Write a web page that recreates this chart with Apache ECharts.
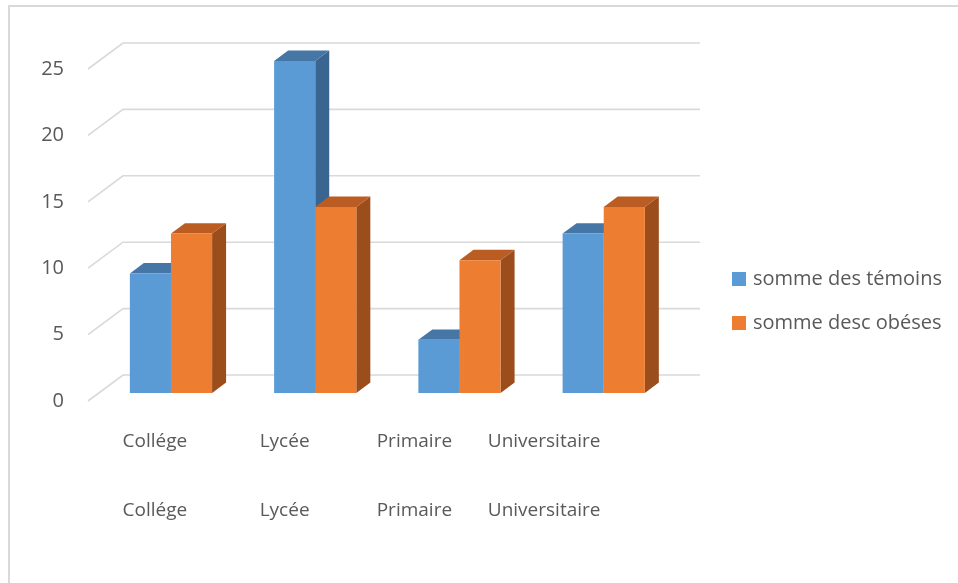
<!DOCTYPE html>
<html>
<head>
<meta charset="utf-8">
<script src="https://cdn.jsdelivr.net/npm/echarts@6/dist/echarts.min.js"></script>
<style>
  html, body { margin: 0; padding: 0; background: #ffffff; }
  #chart { width: 958px; height: 583px; }
</style>
</head>
<body>
<div id="chart"></div>
<script>
// Data
const categories = ['Collége', 'Lycée', 'Primaire', 'Universitaire'];
const temoins = [9, 25, 4, 12];
const obeses = [12, 14, 10, 14];
const seriesNames = ['somme des témoins', 'somme desc obéses'];
const yTicks = [0, 5, 10, 15, 20, 25];

// Pseudo-3D depth of the back wall (px) and shading of the bar faces
const WALL_DX = 35, WALL_DY = 26;
const BAR_SHIFT = 0.31;   // bars sit this far back into the box
const BAR_DEPTH = 0.40;   // bar thickness, as a fraction of box depth
const BAR_SHARE = 0.285;  // bar width, as a fraction of a category band
const palettes = [
  { front: '#5B9BD5', top: '#4676A6', side: '#3B6591' },
  { front: '#ED7D31', top: '#BB5D22', side: '#9B4D1C' }
];
const TEXT = '#595959';
const FONT = 'Open Sans';

function gridRenderer(params, api) {
  const cs = params.coordSys;
  const y = api.coord([0, api.value(1)])[1];
  const x0 = cs.x, x1 = cs.x + cs.width;
  return {
    type: 'polyline',
    shape: { points: [[x0, y], [x0 + WALL_DX, y - WALL_DY], [x1 + WALL_DX, y - WALL_DY]] },
    style: { stroke: '#D9D9D9', lineWidth: 1.6, fill: null }
  };
}

function barRenderer(side, pal) {
  return function (params, api) {
    const idx = api.value(0), v = api.value(1);
    const base = api.coord([idx, 0]);
    const top = api.coord([idx, v]);
    const w = api.size([1, 0])[0] * BAR_SHARE;
    const ox = WALL_DX * BAR_SHIFT, oy = -WALL_DY * BAR_SHIFT;
    const x0 = base[0] + (side === 0 ? -w : 0) + ox;
    const x1 = x0 + w;
    const yb = base[1] + oy, yt = top[1] + oy;
    const dx = WALL_DX * BAR_DEPTH, dy = -WALL_DY * BAR_DEPTH;
    return {
      type: 'group',
      children: [
        { type: 'polygon', shape: { points: [[x1, yb], [x1 + dx, yb + dy], [x1 + dx, yt + dy], [x1, yt]] },
          style: { fill: pal.side } },
        { type: 'polygon', shape: { points: [[x0, yt], [x0 + dx, yt + dy], [x1 + dx, yt + dy], [x1, yt]] },
          style: { fill: pal.top } },
        { type: 'rect', shape: { x: x0, y: yt, width: w, height: yb - yt },
          style: { fill: pal.front } }
      ]
    };
  };
}

const values = [temoins, obeses];

const catLabel = { interval: 0, margin: 31, color: TEXT, fontFamily: FONT, fontSize: 19 };

const chart = echarts.init(document.getElementById('chart'), null, { renderer: 'canvas' });
chart.setOption({
  animation: false,
  backgroundColor: '#ffffff',
  textStyle: { fontFamily: FONT },
  graphic: [
    { type: 'polyline', shape: { points: [[9, 583], [9, 6], [958, 6]] },
      style: { stroke: '#D9D9D9', lineWidth: 2, fill: null }, silent: true }
  ],
  legend: {
    orient: 'vertical',
    left: 727,
    top: 264,
    itemWidth: 14,
    itemHeight: 14,
    itemGap: 24,
    icon: 'rect',
    data: seriesNames,
    textStyle: { fontFamily: FONT, fontSize: 20, color: TEXT, padding: [0, 0, 0, 2] }
  },
  grid: [
    { left: 88, top: 69, width: 577, height: 332 },
    { left: 90, top: 69, width: 519, height: 332 }
  ],
  xAxis: [
    { type: 'category', gridIndex: 0, data: categories,
      axisLine: { show: false }, axisTick: { show: false }, axisLabel: { show: false }, splitLine: { show: false } },
    { type: 'category', gridIndex: 1, data: categories, position: 'bottom',
      axisLine: { show: false }, axisTick: { show: false }, splitLine: { show: false },
      axisLabel: catLabel },
    { type: 'category', gridIndex: 1, data: categories, position: 'bottom', offset: 69,
      axisLine: { show: false }, axisTick: { show: false }, splitLine: { show: false },
      axisLabel: catLabel }
  ],
  yAxis: [
    { type: 'value', gridIndex: 0, min: 0, max: 25, interval: 5,
      axisLine: { show: false }, axisTick: { show: false }, splitLine: { show: false },
      axisLabel: { margin: 24, color: TEXT, fontFamily: FONT, fontSize: 20 } },
    { type: 'value', gridIndex: 1, min: 0, max: 1, show: false }
  ],
  series: [
    { type: 'custom', name: 'grid', silent: true, z: 1,
      xAxisIndex: 0, yAxisIndex: 0,
      renderItem: gridRenderer,
      data: yTicks.map(v => [0, v]) },
    ...seriesNames.map((name, s) => ({
      type: 'custom', name: name, z: 2 + s,
      xAxisIndex: 0, yAxisIndex: 0,
      itemStyle: { color: palettes[s].front },
      renderItem: barRenderer(s, palettes[s]),
      encode: { x: 0, y: 1 },
      data: values[s].map((v, i) => [i, v])
    }))
  ]
});
</script>
</body>
</html>
